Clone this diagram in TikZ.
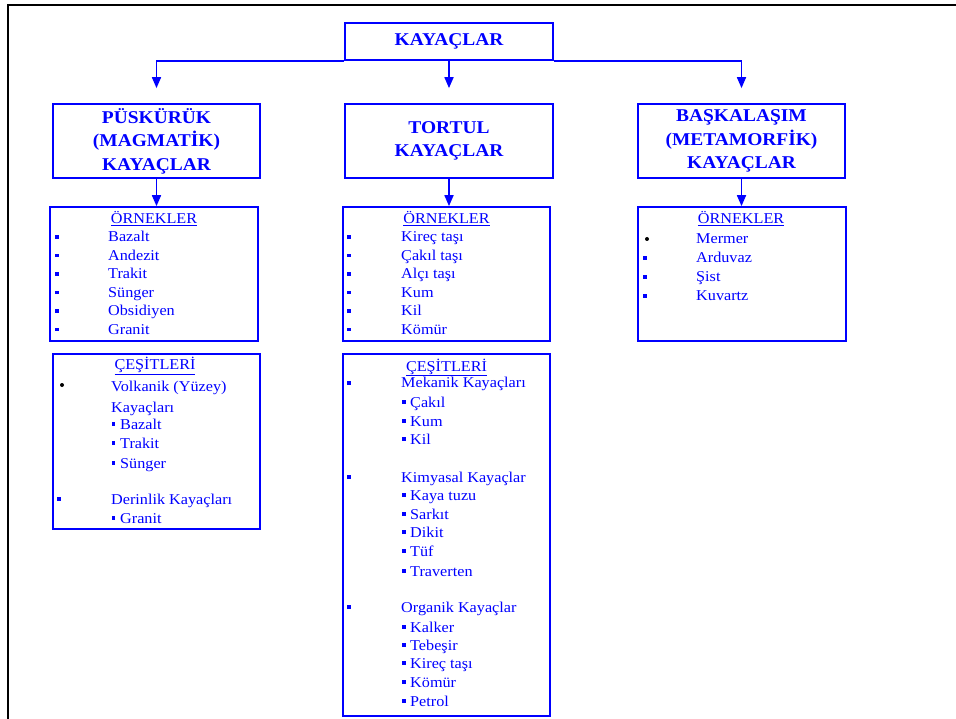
\documentclass[tikz,border=0pt]{standalone}
\usepackage{fontspec}
\setmainfont{Liberation Serif}[FakeStretch=1.08]
\usetikzlibrary{arrows.meta}
\definecolor{bl}{RGB}{0,0,255}
\begin{document}
\begin{tikzpicture}[x=1pt,y=-1pt,
 box/.style={draw=bl, line width=1.7pt, inner sep=0pt},
 ttl/.style={text=bl, font=\fontsize{18}{23.5}\selectfont\bfseries, align=center},
 itm/.style={text=bl, font=\fontsize{15}{18}\selectfont, inner sep=0pt, anchor=base west},
 hd/.style={text=bl, font=\fontsize{15}{18}\selectfont, inner sep=0pt, anchor=base},
 sqb/.style={fill=bl, inner sep=0pt, minimum size=3.2pt},
 dotb/.style={circle, fill=black, inner sep=0pt, minimum size=4pt},
 arr/.style={draw=bl, line width=1.7pt, -{Triangle[length=11pt,width=9pt]}}]
\useasboundingbox (0,0) rectangle (956,719);
\draw[line width=2.2pt] (8.3,719) -- (8.3,5) -- (956,5);

% main boxes
\node[box,ttl, minimum width=208pt, minimum height=37pt] (top) at (449,41.5) {KAYAÇLAR};
\node[box,ttl, minimum width=207pt, minimum height=74pt] (pusk) at (156.5,141) {PÜSKÜRÜK\\(MAGMATİK)\\KAYAÇLAR};
\node[box,ttl, minimum width=208pt, minimum height=74pt] (tort) at (449,141) {TORTUL\\KAYAÇLAR};
\node[box,ttl, minimum width=207pt, minimum height=74pt] (meta) at (741.5,141) {BAŞKALAŞIM\\(METAMORFİK)\\KAYAÇLAR};

% list boxes
\node[box, minimum width=208pt, minimum height=134pt] (lo) at (154,274) {};
\node[box, minimum width=207pt, minimum height=175pt] (lc) at (156.5,441.5) {};
\node[box, minimum width=207pt, minimum height=134pt] (mo) at (446.5,274) {};
\node[box, minimum width=207pt, minimum height=362pt] (mc) at (446.5,535) {};
\node[box, minimum width=208pt, minimum height=134pt] (ro) at (742,274) {};

% connectors
\draw[arr, shorten >=15pt] (top.south) -- (tort.north);
\draw[arr, shorten >=15pt] (top.south west) -| (pusk.north);
\draw[arr, shorten >=15pt] (top.south east) -| (meta.north);
\draw[arr] (pusk.south) -- (pusk.south |- lo.north);
\draw[arr] (tort.south) -- (tort.south |- mo.north);
\draw[arr] (meta.south) -- (meta.south |- ro.north);

% left examples
\node[hd] (loh) at (154,224) {\underline{ÖRNEKLER}};
\foreach \t [count=\i] in {Bazalt,Andezit,Trakit,Sünger,Obsidiyen,Granit}{
  \node[itm] (lo\i) at (108,{242+18.5*(\i-1)}) {\t};
  \node[sqb] (lob\i) at (57,{237+18.5*(\i-1)}) {};
}
% middle examples
\node[hd] (moh) at (446.5,224) {\underline{ÖRNEKLER}};
\foreach \t [count=\i] in {Kireç taşı,Çakıl taşı,Alçı taşı,Kum,Kil,Kömür}{
  \node[itm] (mo\i) at (401,{242+18.5*(\i-1)}) {\t};
  \node[sqb] (mob\i) at (349,{237+18.5*(\i-1)}) {};
}
% right examples
\node[hd] (roh) at (741,224) {\underline{ÖRNEKLER}};
\foreach \t [count=\i] in {Mermer,Arduvaz,Şist,Kuvartz}{
  \node[itm] (ro\i) at (696,{244+19*(\i-1)}) {\t};
}
\node[dotb] (rob1) at (647,239) {};
\foreach \i in {2,3,4}{
  \node[sqb] (rob\i) at (645,{239+19*(\i-1)}) {};
}

% left varieties
\node[hd] (lch) at (155,370) {\underline{ÇEŞİTLERİ}};
\node[dotb] (lcb1) at (62,385) {};
\node[itm] (lc1) at (111,391) {Volkanik (Yüzey)};
\node[itm] (lc1b) at (111,412) {Kayaçları};
\foreach \t/\yy [count=\i] in {Bazalt/429,Trakit/448,Sünger/468}{
  \node[itm] (lcs\i) at (120,\yy) {\t};
  \node[sqb] (lcsb\i) at (113.5,{\yy-5}) {};
}
\node[sqb] (lcb2) at (59,499) {};
\node[itm] (lc2) at (111,504) {Derinlik Kayaçları};
\node[itm] (lcs4) at (120,523) {Granit};
\node[sqb] (lcsb4) at (113.5,518) {};

% middle varieties
\node[hd] (mch) at (446.5,371) {\underline{ÇEŞİTLERİ}};
\foreach \t/\yy [count=\i] in {Mekanik Kayaçları/388,Kimyasal Kayaçlar/482,Organik Kayaçlar/612}{
  \node[itm] (mc\i) at (401,\yy) {\t};
  \node[sqb] (mcb\i) at (349,{\yy-5}) {};
}
\foreach \t/\yy [count=\i] in {Çakıl/407,Kum/426,Kil/444,Kaya tuzu/500,Sarkıt/519,Dikit/537,Tüf/556,Traverten/576,Kalker/632,Tebeşir/650,Kireç taşı/668,Kömür/687,Petrol/706}{
  \node[itm] (mcs\i) at (410,\yy) {\t};
  \node[sqb] (mcsb\i) at (404,{\yy-5}) {};
}
\end{tikzpicture}
\end{document}
